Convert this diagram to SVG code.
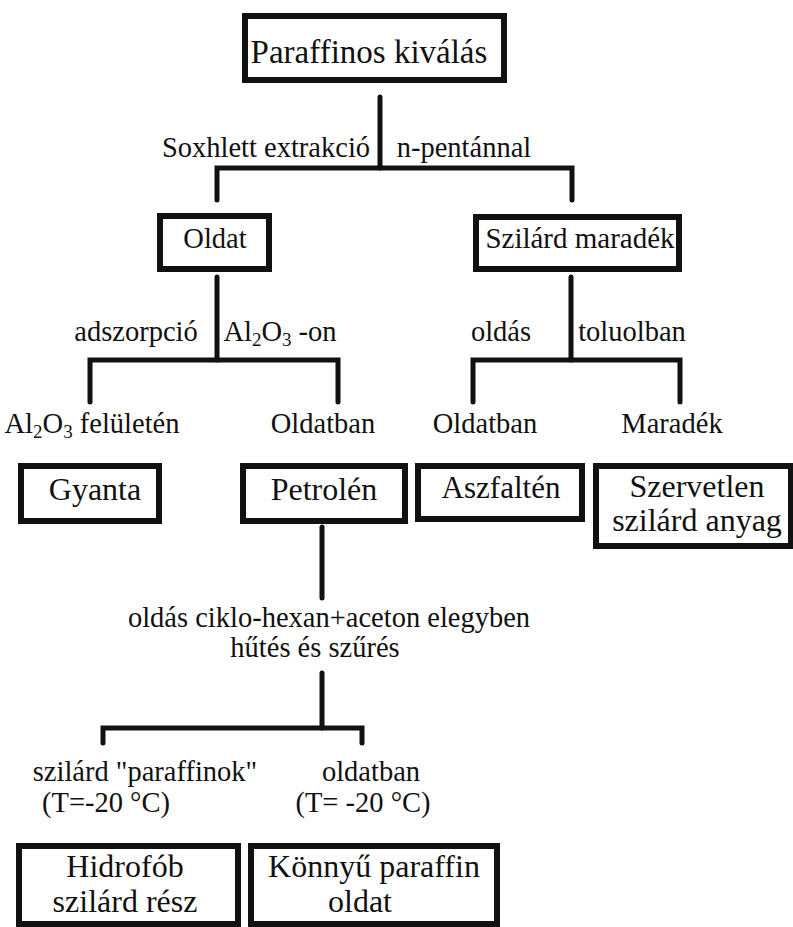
<svg xmlns="http://www.w3.org/2000/svg" width="793" height="927" viewBox="0 0 793 927" font-family="'Liberation Serif', Tinos, 'Times New Roman', 'DejaVu Serif', serif">
<style>
text{font-family:'Liberation Serif',Tinos,'Times New Roman','DejaVu Serif',serif;fill:#111;text-anchor:middle}
.box{fill:#fff;stroke:#111;stroke-width:6}
.lbl{font-size:28.5px}
.big{font-size:32px}
.sub{font-size:19px}
.conn path{fill:none;stroke:#111;stroke-width:5;stroke-linecap:round;stroke-linejoin:miter}
</style>
<rect width="793" height="927" fill="#fff"/>
<g id="connectors" class="conn">
<path d="M380,97 V168"/>
<path d="M217,200 V168 H572 V200"/>
<path d="M217,277 V360"/>
<path d="M90,402 V360 H338 V402"/>
<path d="M571,277 V360"/>
<path d="M473,402 V360 H680 V402"/>
<path d="M322,527 V598"/>
<path d="M322,673 V728"/>
<path d="M103,743 V728 H362 V743"/>
</g>
<g id="labels" class="lbl">
<text x="266" y="157">Soxhlett extrakció</text>
<text x="464" y="157">n-pentánnal</text>
<text x="136" y="341">adszorpció</text>
<text x="280" y="341">Al<tspan class="sub" dy="5">2</tspan><tspan dy="-5">O</tspan><tspan class="sub" dy="5">3</tspan><tspan dy="-5"> -on</tspan></text>
<text x="501" y="341">oldás</text>
<text x="632" y="341">toluolban</text>
<text x="92" y="433">Al<tspan class="sub" dy="5">2</tspan><tspan dy="-5">O</tspan><tspan class="sub" dy="5">3</tspan><tspan dy="-5"> felületén</tspan></text>
<text x="323" y="433">Oldatban</text>
<text x="485" y="433">Oldatban</text>
<text x="672" y="433">Maradék</text>
<text x="329" y="627">oldás ciklo-hexan+aceton elegyben</text>
<text x="315" y="657">hűtés és szűrés</text>
<text x="145" y="781">szilárd "paraffinok"</text>
<text x="106" y="812">(T=-20 °C)</text>
<text x="371" y="781">oldatban</text>
<text x="363" y="812">(T= -20 °C)</text>
</g>
<g id="node-paraffinos">
<rect class="box" x="245" y="16" width="259" height="64"/>
<text x="369" y="63" style="font-size:33px">Paraffinos kiválás</text>
</g>
<g id="node-oldat">
<rect class="box" x="160" y="216" width="109" height="53"/>
<text class="lbl" x="215" y="248">Oldat</text>
</g>
<g id="node-szilard-maradek">
<rect class="box" x="476" y="217" width="203" height="52"/>
<text x="580" y="248" style="font-size:29px">Szilárd maradék</text>
</g>
<g id="node-gyanta">
<rect class="box" x="21" y="466" width="138" height="55"/>
<text class="big" x="95" y="500">Gyanta</text>
</g>
<g id="node-petrolen">
<rect class="box" x="243" y="466" width="162" height="55"/>
<text class="big" x="324" y="500">Petrolén</text>
</g>
<g id="node-aszfalten">
<rect class="box" x="418" y="466" width="164" height="53"/>
<text x="501" y="498" style="font-size:31px">Aszfaltén</text>
</g>
<g id="node-szervetlen">
<rect class="box" x="596" y="466" width="195" height="80"/>
<text class="big" x="697" y="497">Szervetlen</text>
<text class="big" x="697" y="531">szilárd anyag</text>
</g>
<g id="node-hidrofob">
<rect class="box" x="19" y="846" width="219" height="78"/>
<text class="big" x="125" y="877">Hidrofób</text>
<text class="big" x="125" y="912">szilárd rész</text>
</g>
<g id="node-konnyu">
<rect class="box" x="251" y="846" width="246" height="78"/>
<text class="big" x="374" y="877">Könnyű paraffin</text>
<text class="big" x="360" y="912">oldat</text>
</g>
</svg>
